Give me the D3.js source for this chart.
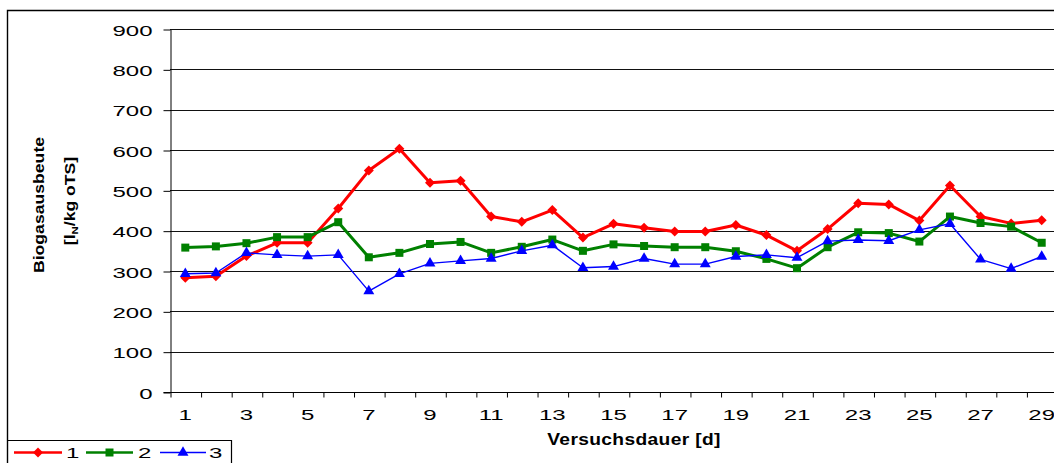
<!DOCTYPE html>
<html>
<head>
<meta charset="utf-8">
<script src="https://cdn.jsdelivr.net/npm/d3@7"></script>
<style>
  html, body { margin: 0; padding: 0; background: #fff; overflow: hidden; }
  svg { display: block; font-family: "Liberation Sans", Arial, sans-serif; }
</style>
</head>
<body>
<svg id="chart" width="1054" height="463"></svg>
<script>
// Days of the trial
const days = d3.range(1, 30);

// Biogas yield per series [lN/kg oTS]
const series1 = [283, 287, 337, 370, 370, 455, 549, 603, 519, 524,
                 435, 422, 451, 383, 417, 407, 398, 398, 414, 389,
                 350, 404, 468, 465, 425, 512, 435, 418, 426];
const series2 = [358, 361, 369, 384, 384, 421, 334, 345, 367, 372,
                 345, 360, 378, 350, 366, 362, 359, 359, 349, 330,
                 307, 359, 396, 394, 373, 435, 419, 410, 370];
const series3 = [293, 295, 345, 340, 337, 340, 250, 293, 319, 325,
                 331, 350, 364, 308, 311, 331, 317, 317, 336, 340,
                 333, 374, 377, 375, 402, 417, 329, 306, 336];

const seriesNames = ["1", "2", "3"];
const yTicks = [0, 100, 200, 300, 400, 500, 600, 700, 800, 900];
const xTickLabels = days.filter(d => d % 2 === 1);

const yTitle = "Biogasausbeute";
const xTitle = "Versuchsdauer [d]";

const svg = d3.select("#chart");

const plotLeft = 170, plotRight = 1057, plotTop = 29, plotBottom = 392;

const x = d3.scaleBand().domain(days).range([plotLeft, plotRight]).paddingInner(0).paddingOuter(0);
const xEdge = d3.scaleLinear().domain([0, days.length]).range([plotLeft, plotRight]);
const y = d3.scaleLinear().domain([0, 900]).range([plotBottom, plotTop]);
const cx = d => x(d) + x.bandwidth() / 2;

// Outer chart frame (left and top edges)
svg.append("path")
  .attr("d", `M7.5,463 V10.5 H1054`)
  .attr("fill", "none").attr("stroke", "#000").attr("stroke-width", 1.4);

// Horizontal gridlines
svg.append("g")
  .selectAll("line")
  .data(yTicks.filter(v => v > 0))
  .join("line")
  .attr("x1", plotLeft).attr("x2", plotRight)
  .attr("y1", d => Math.round(y(d)) + 0.5).attr("y2", d => Math.round(y(d)) + 0.5)
  .attr("stroke", "#111").attr("stroke-width", 1);

// Y axis
const yAxis = svg.append("g")
  .attr("transform", `translate(${plotLeft + 0.5},0.5)`)
  .call(d3.axisLeft(y).tickValues(yTicks).tickSize(7).tickSizeOuter(0).tickFormat(d3.format("d")));
yAxis.select(".domain").attr("stroke", "#000");
yAxis.selectAll(".tick line").attr("stroke", "#000");
yAxis.selectAll(".tick text")
  .attr("x", null).attr("dy", null)
  .attr("transform", "translate(-18,5.5) scale(1.6,1)")
  .attr("text-anchor", "end")
  .attr("font-size", 15)
  .attr("fill", "#000")
  .attr("font-family", "Liberation Sans, Arial, sans-serif");

// X axis: tick marks between categories
const xTicksAxis = svg.append("g")
  .attr("transform", `translate(0.5,${plotBottom + 0.5})`)
  .call(d3.axisBottom(xEdge).tickValues(d3.range(0, days.length + 1)).tickSize(5).tickSizeOuter(0).tickFormat(""));
xTicksAxis.select(".domain").attr("d", `M${plotLeft - 7},0H${plotRight}`).attr("stroke", "#000");
xTicksAxis.selectAll(".tick line").attr("stroke", "#000");

// X axis labels for odd days
svg.append("g")
  .selectAll("text")
  .data(xTickLabels)
  .join("text")
  .attr("transform", d => `translate(${cx(d)},420) scale(1.6,1)`)
  .attr("text-anchor", "middle")
  .attr("font-size", 15)
  .text(d => d);

// Axis titles
svg.append("text")
  .attr("transform", "translate(634,445) scale(1.2,1)")
  .attr("text-anchor", "middle")
  .attr("font-size", 16)
  .attr("font-weight", "bold")
  .attr("letter-spacing", 0.3)
  .text(xTitle);

svg.append("text")
  .attr("transform", "translate(43.5,205) rotate(-90) scale(1.26,1)")
  .attr("text-anchor", "middle")
  .attr("font-size", 14)
  .attr("font-weight", "bold")
  .text(yTitle);

const yTitle2 = svg.append("text")
  .attr("transform", "translate(75,201) rotate(-90) scale(1.26,1)")
  .attr("text-anchor", "middle")
  .attr("font-size", 14)
  .attr("font-weight", "bold");
yTitle2.append("tspan").text("[l");
yTitle2.append("tspan").attr("font-size", 9).attr("dy", 3).text("N");
yTitle2.append("tspan").attr("dy", -3).text("/kg oTS]");

// Series definitions
const seriesDefs = [
  { name: seriesNames[0], values: series1, color: "#FF0000", width: 3, symbol: d3.symbol(d3.symbolSquare, 50), rotate: 45 },
  { name: seriesNames[1], values: series2, color: "#008000", width: 3, symbol: d3.symbol(d3.symbolSquare, 64), rotate: 0 },
  { name: seriesNames[2], values: series3, color: "#0000FF", width: 1.4, symbol: d3.symbol(d3.symbolTriangle, 52), rotate: 0 }
];

const line = d3.line().x((v, i) => cx(days[i])).y(v => y(v));

seriesDefs.forEach(s => {
  const g = svg.append("g");
  g.append("path")
    .datum(s.values)
    .attr("d", line)
    .attr("fill", "none")
    .attr("stroke", s.color)
    .attr("stroke-width", s.width)
    .attr("stroke-linejoin", "round");
  g.selectAll("path.marker")
    .data(s.values)
    .join("path")
    .attr("class", "marker")
    .attr("d", s.symbol())
    .attr("transform", (v, i) => `translate(${cx(days[i])},${y(v)}) rotate(${s.rotate})`)
    .attr("fill", s.color);
});

// Legend
const legend = svg.append("g");
legend.append("path")
  .attr("d", "M7.5,440.5 H231.5 V463")
  .attr("fill", "none").attr("stroke", "#000").attr("stroke-width", 1.2);

const legendItems = [
  { x1: 14, x2: 62, tx: 66 },
  { x1: 86, x2: 133, tx: 138 },
  { x1: 160, x2: 206, tx: 209 }
];
const legendY = 452.5;
seriesDefs.forEach((s, i) => {
  const it = legendItems[i];
  legend.append("line")
    .attr("x1", it.x1).attr("x2", it.x2)
    .attr("y1", legendY).attr("y2", legendY)
    .attr("stroke", s.color).attr("stroke-width", s.width > 2 ? 2.5 : 1.4);
  legend.append("path")
    .attr("d", s.symbol())
    .attr("transform", `translate(${(it.x1 + it.x2) / 2},${legendY}) rotate(${s.rotate})`)
    .attr("fill", s.color);
  legend.append("text")
    .attr("transform", `translate(${it.tx},458) scale(1.6,1)`)
    .attr("font-size", 15)
    .text(s.name);
});
</script>
</body>
</html>
